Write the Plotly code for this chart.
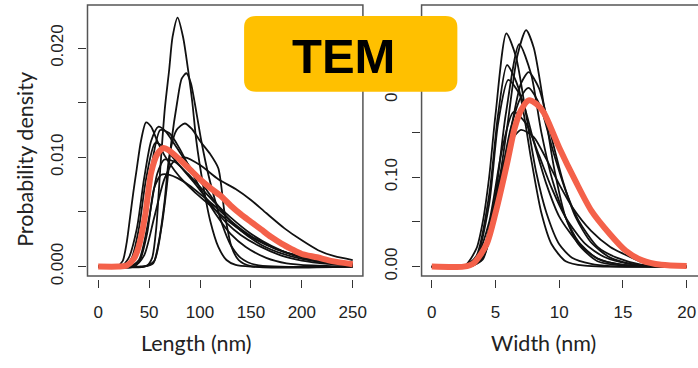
import plotly.graph_objects as go

W, H = 698, 368

# ---------------- Length panel data (nm, probability density) ----------------
len_ticks = [0, 50, 100, 150, 200, 250]
len_yticks = [0.0, 0.005, 0.010, 0.015, 0.020]
len_yticktext = ["0.000", "", "0.010", "", "0.020"]

len_mean_x = [0, 20, 28, 35, 40, 46, 52, 58, 64, 70, 80, 90, 100, 110, 120, 130, 140, 150, 160, 170, 180, 190, 200, 215, 230, 250]
len_mean_y = [0, 0, 0.0001, 0.0007, 0.0019, 0.0046, 0.0086, 0.0103, 0.01085, 0.0106, 0.0098, 0.0089, 0.0080, 0.0072, 0.0065, 0.0056, 0.0048, 0.0041, 0.0034, 0.0027, 0.0021, 0.0016, 0.00115, 0.00085, 0.0005, 0.00022]

lenA_x = [0, 40, 48, 53, 57, 61, 65.5, 69.7, 73, 78, 83.4, 88.3, 92.5, 96.4, 103, 110, 118, 126, 135, 150, 250]
lenA_y = [0, 0, 0.0001, 0.0008, 0.0035, 0.009, 0.0145, 0.018, 0.021, 0.0228, 0.021, 0.018, 0.015, 0.0115, 0.0075, 0.0042, 0.0018, 0.0006, 0.00015, 0, 0]
lenB_x = [0, 45, 55, 62, 67, 72, 77.5, 82, 86.6, 91, 94.8, 101.3, 108, 115, 122, 130, 140, 155, 250]
lenB_y = [0, 0, 0.0005, 0.0035, 0.007, 0.0115, 0.015, 0.0172, 0.0177, 0.0168, 0.015, 0.0115, 0.0085, 0.006, 0.0038, 0.002, 0.0008, 0.00015, 0]
lenC_x = [0, 45, 54, 60, 65, 70, 77, 85, 92, 100, 110, 118, 124, 131, 138, 150, 250]
lenC_y = [0, 0, 0.0003, 0.0025, 0.0058, 0.0102, 0.0125, 0.0131, 0.0126, 0.0115, 0.0103, 0.009, 0.005, 0.0018, 0.0006, 0.00005, 0]
lenD_x = [0, 18, 24, 28, 31.3, 34.5, 37.8, 42, 47, 52, 58, 65, 75, 85, 95, 110, 130, 150, 175, 200, 225, 250]
lenD_y = [0, 0, 0.0005, 0.0022, 0.0045, 0.0068, 0.0089, 0.0115, 0.0132, 0.0128, 0.0115, 0.0102, 0.0088, 0.0077, 0.0068, 0.0056, 0.004, 0.0027, 0.0016, 0.0009, 0.0005, 0.0003]
lenE_x = [0, 22, 30, 38, 45, 52, 59, 66, 75, 85, 95, 105, 115, 125, 140, 160, 180, 200, 225, 250]
lenE_y = [0, 0, 0.0008, 0.0035, 0.008, 0.0115, 0.0128, 0.0124, 0.0112, 0.0098, 0.0085, 0.0072, 0.0059, 0.0047, 0.0033, 0.002, 0.0012, 0.0007, 0.00035, 0.00015]
lenF_x = [0, 25, 33, 40, 47, 56, 65, 75, 85, 95, 105, 115, 125, 140, 160, 180, 200, 225, 250]
lenF_y = [0, 0, 0.0008, 0.0035, 0.008, 0.0113, 0.0109, 0.0098, 0.0087, 0.0076, 0.0064, 0.0052, 0.0041, 0.0029, 0.0018, 0.001, 0.00055, 0.00025, 0.0001]
lenG_x = [0, 28, 36, 44, 52, 61, 70, 80, 90, 100, 110, 120, 130, 145, 165, 185, 210, 250]
lenG_y = [0, 0, 0.0008, 0.004, 0.009, 0.0125, 0.0122, 0.0108, 0.009, 0.0072, 0.0056, 0.0042, 0.003, 0.0018, 0.0008, 0.0003, 0.0001, 0]
lenH_x = [0, 30, 40, 48, 55, 62, 70, 78, 90, 102, 115, 130, 150, 175, 200, 225, 250]
lenH_y = [0, 0, 0.0004, 0.003, 0.0072, 0.0084, 0.0084, 0.0081, 0.0074, 0.0065, 0.0055, 0.0042, 0.0028, 0.0016, 0.0009, 0.0005, 0.0003]
lenI_x = [0, 35, 45, 55, 65, 75, 85, 100, 118, 135, 150, 165, 183, 200, 216, 232, 250]
lenI_y = [0, 0, 0.001, 0.0045, 0.008, 0.0097, 0.01, 0.0093, 0.008, 0.0071, 0.0061, 0.0049, 0.0035, 0.0024, 0.0015, 0.00095, 0.0006]
lenJ_x = [0, 30, 40, 50, 58, 65, 75, 88, 100, 115, 130, 150, 170, 190, 210, 230, 250]
lenJ_y = [0, 0, 0.0006, 0.0045, 0.0085, 0.0098, 0.0096, 0.0085, 0.0073, 0.0058, 0.0045, 0.003, 0.0019, 0.0011, 0.0006, 0.0003, 0.00015]

# ---------------- Width panel data (nm, probability density) ----------------
wid_ticks = [0, 5, 10, 15, 20]
wid_yticks = [0.0, 0.05, 0.10, 0.15, 0.20, 0.25]
wid_yticktext = ["0.00", "", "0.10", "", "0.20", ""]

wid_mean_x = [0, 2.5, 3.3, 4.3, 5.0, 5.9, 6.5, 7.0, 7.6, 8.2, 8.8, 10.0, 11.3, 12.5, 14.0, 15.2, 16.5, 18.0, 20.0]
wid_mean_y = [0, 0, 0.004, 0.025, 0.06, 0.115, 0.155, 0.175, 0.186, 0.182, 0.172, 0.133, 0.095, 0.063, 0.036, 0.018, 0.007, 0.002, 0.0007]

widA_x = [0, 2.5, 3.5, 4.0, 4.5, 5.0, 5.85, 6.6, 7.4, 8.2, 9.0, 10.0, 11.0, 12.5, 14, 20]
widA_y = [0, 0, 0.02, 0.05, 0.1, 0.17, 0.261, 0.235, 0.17, 0.105, 0.06, 0.025, 0.01, 0.003, 0.0005, 0]
widB_x = [0, 3, 3.5, 4.2, 4.8, 5.4, 6.0, 6.7, 7.4, 8.0, 8.8, 9.6, 10.5, 11.5, 13, 15, 20]
widB_y = [0, 0, 0.005, 0.025, 0.055, 0.105, 0.165, 0.235, 0.2646, 0.245, 0.18, 0.11, 0.055, 0.025, 0.006, 0.001, 0]
widC_x = [0, 2.8, 3.8, 4.8, 5.8, 6.86, 7.8, 8.6, 9.5, 10.5, 11.5, 13, 15, 20]
widC_y = [0, 0, 0.008, 0.06, 0.17, 0.249, 0.215, 0.15, 0.095, 0.055, 0.028, 0.009, 0.002, 0]
widD_x = [0, 2.5, 3.5, 4.5, 5.2, 5.9, 6.8, 7.8, 8.6, 9.4, 10.5, 12, 20]
widD_y = [0, 0, 0.012, 0.08, 0.17, 0.2256, 0.2, 0.12, 0.06, 0.025, 0.006, 0.001, 0]
widE_x = [0, 3, 4, 4.8, 5.5, 6.3, 7.0, 7.6, 8.4, 9.3, 10.3, 11.3, 12.5, 14, 16, 20]
widE_y = [0, 0, 0.01, 0.044, 0.098, 0.16, 0.205, 0.2176, 0.2, 0.15, 0.095, 0.055, 0.027, 0.01, 0.002, 0]
widF_x = [0, 2.5, 3.5, 4.5, 5.2, 6.0, 7, 8, 9, 10, 11.5, 13, 15, 20]
widF_y = [0, 0, 0.01, 0.07, 0.16, 0.209, 0.19, 0.14, 0.092, 0.056, 0.026, 0.009, 0.002, 0]
widG_x = [0, 2.5, 3.5, 4.5, 5.5, 6.4, 7.4, 8.4, 9.4, 10.5, 12, 13.5, 15.5, 20]
widG_y = [0, 0, 0.01, 0.05, 0.13, 0.173, 0.16, 0.125, 0.088, 0.055, 0.026, 0.011, 0.003, 0]
widH_x = [0, 3, 4, 4.5, 5.3, 6.2, 7, 8, 9, 10, 11, 12.5, 14, 15, 16.5, 18, 20]
widH_y = [0, 0, 0.015, 0.044, 0.098, 0.14, 0.153, 0.145, 0.12, 0.092, 0.067, 0.04, 0.022, 0.0145, 0.005, 0.001, 0]
widI_x = [0, 3, 4, 4.7, 5.4, 6.2, 7.0, 7.6, 8.5, 9.5, 10.5, 11.5, 13, 14.5, 16.5, 20]
widI_y = [0, 0, 0.008, 0.044, 0.098, 0.155, 0.19, 0.2, 0.18, 0.13, 0.085, 0.052, 0.022, 0.01, 0.002, 0]

len_curves = [(lenA_x, lenA_y), (lenB_x, lenB_y), (lenC_x, lenC_y), (lenD_x, lenD_y),
              (lenE_x, lenE_y), (lenF_x, lenF_y), (lenG_x, lenG_y), (lenH_x, lenH_y),
              (lenI_x, lenI_y), (lenJ_x, lenJ_y)]
wid_curves = [(widA_x, widA_y), (widB_x, widB_y), (widC_x, widC_y), (widD_x, widD_y),
              (widE_x, widE_y), (widF_x, widF_y), (widG_x, widG_y), (widH_x, widH_y),
              (widI_x, widI_y)]

BLACK = "#111111"
ORANGE = "#F4614A"
TICKFONT = dict(family="Liberation Sans, Arial, sans-serif", size=17, color="#222222")
TITLEFONT = dict(family="Lato, Open Sans, sans-serif", size=21.5, color="#222222")


def px(p):
    return p / W


def py(p):
    return 1 - p / H


fig = go.Figure()
for cx, cy in len_curves:
    fig.add_trace(go.Scatter(x=cx, y=cy, mode="lines", xaxis="x", yaxis="y",
                             line=dict(color=BLACK, width=1.8, shape="spline", smoothing=0.7),
                             hoverinfo="skip", showlegend=False))
fig.add_trace(go.Scatter(x=len_mean_x, y=len_mean_y, mode="lines", xaxis="x", yaxis="y",
                         line=dict(color=ORANGE, width=6, shape="spline", smoothing=0.7),
                         hoverinfo="skip", showlegend=False))
for cx, cy in wid_curves:
    fig.add_trace(go.Scatter(x=cx, y=cy, mode="lines", xaxis="x2", yaxis="y2",
                             line=dict(color=BLACK, width=1.8, shape="spline", smoothing=0.7),
                             hoverinfo="skip", showlegend=False))
fig.add_trace(go.Scatter(x=wid_mean_x, y=wid_mean_y, mode="lines", xaxis="x2", yaxis="y2",
                         line=dict(color=ORANGE, width=6, shape="spline", smoothing=0.7),
                         hoverinfo="skip", showlegend=False))

axcommon = dict(showgrid=False, zeroline=False, showline=False, ticks="outside",
                ticklen=8, tickwidth=1.3, tickcolor="#333333", tickfont=TICKFONT,
                anchor="free", fixedrange=True)

fig.update_layout(
    width=W, height=H, margin=dict(l=0, r=0, t=0, b=0),
    paper_bgcolor="white", plot_bgcolor="white",
    xaxis=dict(domain=[px(88), px(365)], range=[-10.5, 260], position=py(286),
               tickvals=len_ticks, ticklabelstandoff=10, **axcommon),
    yaxis=dict(domain=[py(283), py(5)], range=[-0.00087, 0.02396], position=px(86),
               tickvals=len_yticks, ticktext=len_yticktext, tickangle=-90,
               ticklabelstandoff=8, **axcommon),
    xaxis2=dict(domain=[px(424), 1.0], range=[-0.8, 20.57], position=py(286),
                tickvals=wid_ticks, ticklabelstandoff=10, **axcommon),
    yaxis2=dict(domain=[py(283), py(5)], range=[-0.0106, 0.2929], position=px(422),
                tickvals=wid_yticks, ticktext=wid_yticktext, tickangle=-90,
                ticklabelstandoff=8, **axcommon),
)

# plot frames
fig.add_shape(type="rect", xref="paper", yref="paper", x0=px(88), x1=px(365),
              y0=py(283), y1=py(5), line=dict(color="#555555", width=1.5))
fig.add_shape(type="rect", xref="paper", yref="paper", x0=px(424), x1=px(720),
              y0=py(283), y1=py(5), line=dict(color="#555555", width=1.5))

# rounded "TEM" badge
x0, x1, y0, y1, r = 245.5, 460.0, 16.5, 94.0, 12.0
path = (f"M {px(x0 + r)},{py(y0)} L {px(x1 - r)},{py(y0)} Q {px(x1)},{py(y0)} {px(x1)},{py(y0 + r)} "
        f"L {px(x1)},{py(y1 - r)} Q {px(x1)},{py(y1)} {px(x1 - r)},{py(y1)} "
        f"L {px(x0 + r)},{py(y1)} Q {px(x0)},{py(y1)} {px(x0)},{py(y1 - r)} "
        f"L {px(x0)},{py(y0 + r)} Q {px(x0)},{py(y0)} {px(x0 + r)},{py(y0)} Z")
fig.add_shape(type="path", xref="paper", yref="paper", path=path,
              fillcolor="#FFC000", line=dict(width=0), layer="above")

fig.add_annotation(xref="paper", yref="paper", x=px(345), y=py(57), text="<b>TEM</b>",
                   showarrow=False, xanchor="center", yanchor="middle",
                   font=dict(family="Liberation Sans, Arial, sans-serif", size=49, color="#000000"))

# axis titles
fig.add_annotation(xref="paper", yref="paper", x=px(25), y=py(163), text="Probability density",
                   textangle=-90, showarrow=False, xanchor="center", yanchor="middle", font=TITLEFONT)
fig.add_annotation(xref="paper", yref="paper", x=px(198), y=py(352), text="Length (nm)",
                   showarrow=False, xanchor="center", yanchor="middle", font=TITLEFONT)
fig.add_annotation(xref="paper", yref="paper", x=px(547), y=py(352), text="Width (nm)",
                   showarrow=False, xanchor="center", yanchor="middle", font=TITLEFONT)

fig.write_html("out.html")
